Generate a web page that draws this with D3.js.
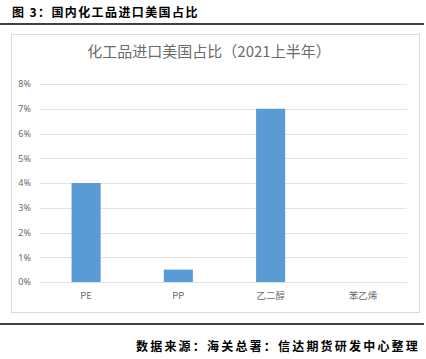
<!DOCTYPE html>
<html>
<head>
<meta charset="utf-8">
<script src="https://cdn.jsdelivr.net/npm/d3@7"></script>
<style>
  body { margin: 0; background: #fff; }
  svg { display: block; }
</style>
</head>
<body>
<svg id="chart" width="426" height="359"></svg>
<script>
var categories = ["PE", "PP", "乙二醇", "苯乙烯"];
var shares = [0.04, 0.005, 0.07, 0];
var yTicks = [0, 0.01, 0.02, 0.03, 0.04, 0.05, 0.06, 0.07, 0.08];

var svg = d3.select("#chart");
var width = 426, height = 359;
var cnFont = "'Noto Sans CJK SC', sans-serif";

// header
svg.append("text")
  .attr("x", 12)
  .attr("y", 17)
  .attr("font-family", cnFont)
  .attr("font-weight", "bold")
  .attr("font-size", 12)
  .attr("letter-spacing", 1.4)
  .attr("fill", "#000")
  .text("图 3：国内化工品进口美国占比");

svg.append("line")
  .attr("x1", 0).attr("x2", 424)
  .attr("y1", 24).attr("y2", 24)
  .attr("stroke", "#000")
  .attr("stroke-width", 1.5);

// chart box
svg.append("rect")
  .attr("x", 11.5).attr("y", 34.5)
  .attr("width", 408).attr("height", 278)
  .attr("fill", "#fff")
  .attr("stroke", "#d9d9d9")
  .attr("stroke-width", 1);

svg.append("text")
  .attr("x", 209)
  .attr("y", 57)
  .attr("text-anchor", "middle")
  .attr("font-family", cnFont)
  .attr("font-size", 15)
  .attr("fill", "#6b6b6b")
  .text("化工品进口美国占比（2021上半年）");

var plotLeft = 40, plotRight = 409, plotTop = 84, plotBottom = 282;

var xScale = d3.scaleBand()
  .domain(categories)
  .range([plotLeft, plotRight])
  .paddingInner(0.685)
  .paddingOuter(0.3425);

var yScale = d3.scaleLinear()
  .domain([0, 0.08])
  .range([plotBottom, plotTop]);

// gridlines
svg.append("g")
  .selectAll("line")
  .data(yTicks)
  .enter()
  .append("line")
    .attr("x1", plotLeft)
    .attr("x2", plotRight - 2)
    .attr("y1", function(d){ return Math.round(yScale(d)) + 0.5; })
    .attr("y2", function(d){ return Math.round(yScale(d)) + 0.5; })
    .attr("stroke", "#e3e3e3")
    .attr("stroke-width", 1);

// y axis labels
var yAxis = d3.axisLeft(yScale)
  .tickValues(yTicks)
  .tickFormat(d3.format(".0%"))
  .tickSize(0)
  .tickPadding(0);

var yG = svg.append("g")
  .attr("transform", "translate(31,0)")
  .call(yAxis);
yG.select(".domain").remove();
yG.selectAll("text")
  .attr("font-family", "'Noto Sans', sans-serif")
  .attr("font-size", 9)
  .attr("fill", "#6b6b6b");

// bars
svg.append("g")
  .selectAll("rect")
  .data(shares)
  .enter()
  .append("rect")
    .attr("x", function(d, i){ return xScale(categories[i]); })
    .attr("y", function(d){ return yScale(d); })
    .attr("width", xScale.bandwidth())
    .attr("height", function(d){ return plotBottom - yScale(d); })
    .attr("fill", "#5b9bd5");

// x axis labels
var xAxis = d3.axisBottom(xScale)
  .tickSize(0)
  .tickPadding(0);

var xG = svg.append("g")
  .attr("transform", "translate(0,292)")
  .call(xAxis);
xG.select(".domain").remove();
xG.selectAll("text")
  .attr("font-family", cnFont)
  .attr("font-size", 9.5)
  .attr("fill", "#6b6b6b");

// footer
svg.append("line")
  .attr("x1", 0).attr("x2", 424)
  .attr("y1", 324).attr("y2", 324)
  .attr("stroke", "#000")
  .attr("stroke-width", 1.5);

svg.append("text")
  .attr("x", 420)
  .attr("y", 351)
  .attr("text-anchor", "end")
  .attr("font-family", cnFont)
  .attr("font-weight", "bold")
  .attr("font-size", 12)
  .attr("letter-spacing", 2.2)
  .attr("fill", "#000")
  .text("数据来源：海关总署：信达期货研发中心整理");
</script>
</body>
</html>
